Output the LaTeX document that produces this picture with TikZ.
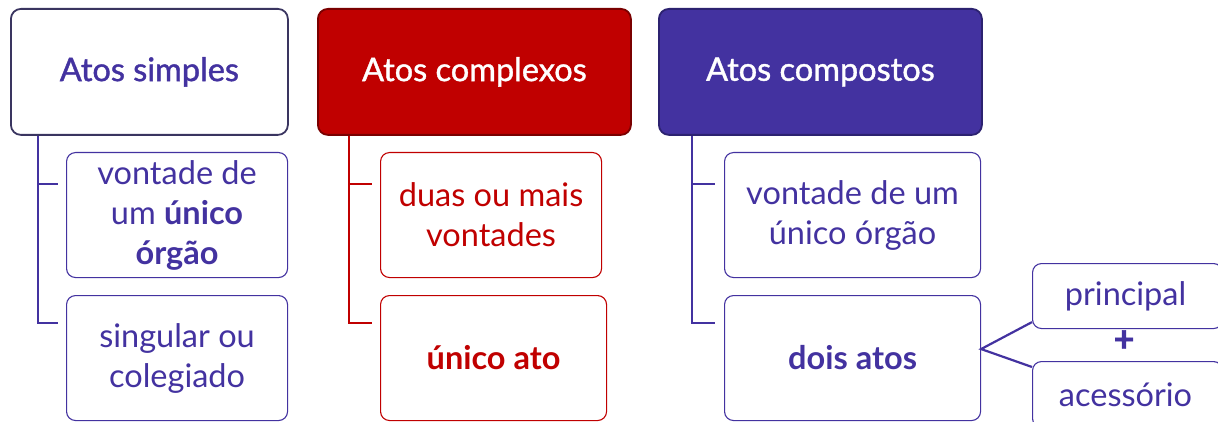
\documentclass[tikz,border=0pt]{standalone}
\usepackage{fontspec}
\setmainfont{Lato}
\newfontfamily\medfont{Lato}[FakeBold=1.2]
\definecolor{pur}{HTML}{4332A0}
\definecolor{red}{HTML}{C00000}
\definecolor{hdone}{HTML}{3A3560}
\definecolor{hdred}{HTML}{7A0000}
\definecolor{hdpur}{HTML}{2C2270}
\begin{document}
\begin{tikzpicture}[x=1pt,y=-1pt,
  txt/.style={font=\fontsize{32.5}{40}\selectfont, align=center, inner sep=0pt},
  head/.style={txt, font=\fontsize{32.5}{40}\selectfont\medfont, rounded corners=10pt, line width=1.8pt, anchor=north west},
  child/.style={txt, rounded corners=9pt, line width=1.1pt, anchor=north west},
  conn/.style={line width=2.6pt},
]
\useasboundingbox (0,0) rectangle (1218,422);
% column 1
\node[head, draw=hdone, fill=white, text=pur, minimum width=277pt, minimum height=126pt] (h1) at (10,8) {Atos simples};
\node[child, draw=pur, text=pur, minimum width=221pt, minimum height=125pt] (c11) at (66,152) {vontade de\\um \textbf{único}\\\textbf{órgão}};
\node[child, draw=pur, text=pur, minimum width=221pt, minimum height=125pt] (c12) at (66,295) {singular ou\\colegiado};
\draw[conn, pur] (h1.south -| 38,0) |- ([shift={(-8,32)}]c11.north west);
\draw[conn, pur] (h1.south -| 38,0) |- ([shift={(-8,28)}]c12.north west);
% column 2
\node[head, draw=hdred, fill=red, text=white, minimum width=313pt, minimum height=126pt] (h2) at (317,8) {Atos complexos};
\node[child, draw=red, text=red, minimum width=221pt, minimum height=125pt] (c21) at (380,152) {duas ou mais\\vontades};
\node[child, draw=red, text=red, minimum width=226pt, minimum height=125pt] (c22) at (380,295) {\textbf{único ato}};
\draw[conn, red] (h2.south -| 349,0) |- ([shift={(-8,32)}]c21.north west);
\draw[conn, red] (h2.south -| 349,0) |- ([shift={(-8,28)}]c22.north west);
% column 3
\node[head, draw=hdpur, fill=pur, text=white, minimum width=323pt, minimum height=126pt] (h3) at (658,8) {Atos compostos};
\node[child, draw=pur, text=pur, minimum width=256pt, minimum height=125pt] (c31) at (724,152) {vontade de um\\único órgão};
\node[child, draw=pur, text=pur, minimum width=256pt, minimum height=125pt] (c32) at (724,295) {\textbf{dois atos}};
\draw[conn, pur] (h3.south -| 692,0) |- ([shift={(-9,32)}]c31.north west);
\draw[conn, pur] (h3.south -| 692,0) |- ([shift={(-9,28)}]c32.north west);
% sub boxes
\node[child, draw=pur, text=pur, minimum width=190pt, minimum height=65pt] (p) at (1032,263) {\hspace*{-4pt}principal};
\node[child, draw=pur, text=pur, minimum width=190pt, minimum height=66pt] (a) at (1032,361) {\hspace*{-4pt}acessório};
\node[txt, text=pur, font=\fontsize{36}{36}\selectfont\medfont\bfseries] (plus) at (1124,341) {+};
\draw[line width=2.2pt, pur] ([shift={(0,-7)}]p.south west) -- ([shift={(0,-9)}]c32.east) -- ([shift={(0,6)}]a.north west);
\end{tikzpicture}
\end{document}
